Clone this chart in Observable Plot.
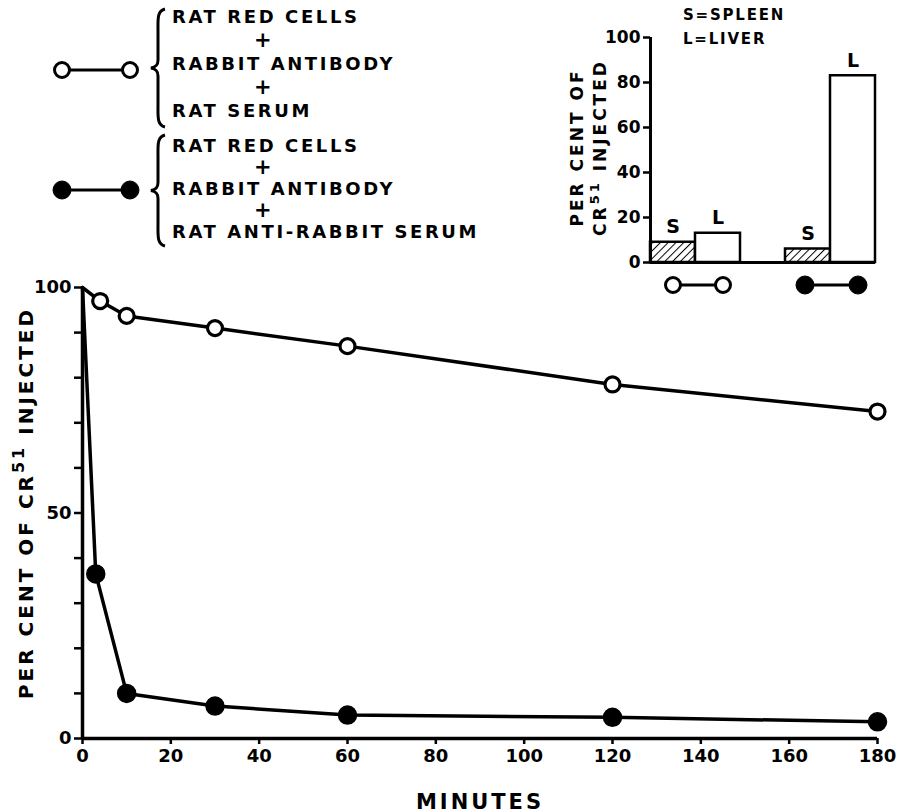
<!DOCTYPE html>
<html><head><meta charset="utf-8">
<script src="https://cdn.jsdelivr.net/npm/d3@7"></script>
<script src="https://cdn.jsdelivr.net/npm/@observablehq/plot@0.6"></script>
<style>
body{margin:0;background:#fff;}
#wrap{position:relative;width:904px;height:812px;overflow:hidden;font-family:"DejaVu Sans",sans-serif;font-weight:bold;color:#000;}
.abs{position:absolute;left:0;top:0;}
.leg{position:absolute;left:172px;font-size:18px;letter-spacing:2.6px;white-space:nowrap;}
.plus{font-size:21px;}
.key{position:absolute;font-size:15px;letter-spacing:1.8px;white-space:nowrap;line-height:24px;}
</style></head><body>
<svg width="0" height="0" style="position:absolute">
  <defs>
    <pattern id="hatch" patternUnits="userSpaceOnUse" width="5.5" height="5.5" patternTransform="rotate(45)">
      <rect width="5.5" height="5.5" fill="white"></rect>
      <line x1="0" y1="0" x2="0" y2="5.5" stroke="black" stroke-width="2"></line>
    </pattern>
  </defs>
</svg>
<div id="wrap"></div>
<script>
// ---- data ----
const openMinutes = [0, 4, 10, 30, 60, 120, 180];
const openPercent = [100, 97, 93.7, 91, 87, 78.5, 72.5];
const filledMinutes = [0, 3, 10, 30, 60, 120, 180];
const filledPercent = [100, 36.5, 10, 7.2, 5.2, 4.7, 3.7];
const xTicks = [0, 20, 40, 60, 80, 100, 120, 140, 160, 180];
const yTicks = [0, 10, 20, 30, 40, 50, 60, 70, 80, 90, 100];
const yTickLabels = [0, 50, 100];
const insetGroups = ["open", "filled"];
const insetOrgans = ["S", "L"];
const spleenPercent = [9, 6];
const liverPercent = [13, 83];
const insetTicks = [0, 20, 40, 60, 80, 100];
const legendLines = [
  ["RAT RED CELLS", "RABBIT ANTIBODY", "RAT SERUM"],
  ["RAT RED CELLS", "RABBIT ANTIBODY", "RAT ANTI-RABBIT SERUM"]
];
const organKey = ["S=SPLEEN", "L=LIVER"];
const insetLabelLines = ["PER CENT OF", "CR51 INJECTED"];

const wrap = document.getElementById("wrap");
const font = {fontFamily: "DejaVu Sans, sans-serif", fontWeight: "bold", fontSize: "18px", background: "transparent", color: "black"};

// superscript helper for labels like "CR51"
function supLabel(textEl, before, sup, after, supSize, shift, lead) {
  const t = d3.select(textEl);
  t.text(null);
  t.append("tspan").attr("dx", lead || 0).text(before);
  t.append("tspan").attr("dy", -shift).style("font-size", supSize + "px").text(sup);
  t.append("tspan").attr("dy", shift).text(after);
}

// ---- main chart ----
const rows = [
  ...openMinutes.map((t, i) => ({series: "open", t, v: openPercent[i]})),
  ...filledMinutes.map((t, i) => ({series: "filled", t, v: filledPercent[i]}))
];
const main = Plot.plot({
  width: 904, height: 812,
  marginLeft: 82, marginRight: 27, marginTop: 287, marginBottom: 74,
  style: font,
  x: {domain: [0, 180]},
  y: {domain: [0, 100]},
  marks: [
    Plot.axisX({ticks: xTicks, tickSize: 6, tickPadding: 5, strokeWidth: 2.5, label: "MINUTES", labelAnchor: "center", labelArrow: "none", labelOffset: 70}),
    Plot.axisY({ticks: yTicks, tickFormat: d => yTickLabels.includes(d) ? d : "", tickSize: 8, tickPadding: 3, strokeWidth: 2.5, label: "PER CENT OF CR51 INJECTED", labelAnchor: "center", labelArrow: "none", labelOffset: 64}),
    Plot.ruleX([0], {strokeWidth: 3.5}),
    Plot.ruleY([0], {strokeWidth: 3.5}),
    Plot.line(rows, {x: "t", y: "v", z: "series", stroke: "black", strokeWidth: 3.5}),
    Plot.dot(rows.filter(d => d.series === "open" && d.t > 0), {x: "t", y: "v", r: 7.5, fill: "white", stroke: "black", strokeWidth: 3.2}),
    Plot.dot(rows.filter(d => d.series === "filled" && d.t > 0), {x: "t", y: "v", r: 9, fill: "black", stroke: "black"})
  ]
});
main.classList.add("abs");
wrap.appendChild(main);
d3.select(main).selectAll('g[aria-label="y-axis label"] text, g[aria-label="x-axis label"] text')
  .style("font-size", "20px").style("letter-spacing", "3px");
d3.select(main).select('g[aria-label="x-axis label"] text').style("font-size", "21px");
d3.select(main).selectAll('g[aria-label="y-axis label"] text').each(function () {
  supLabel(this, "PER CENT OF CR", "51", " INJECTED", 16, 9, 10);
});

// ---- inset chart ----
const insetRows = insetGroups.flatMap((g, gi) => insetOrgans.map((o, oi) => ({
  group: g, organ: o, slot: gi * 3 + oi, value: o === "S" ? spleenPercent[gi] : liverPercent[gi]
})));
const inset = Plot.plot({
  width: 344, height: 300,
  marginLeft: 90, marginRight: 29, marginTop: 37, marginBottom: 38,
  style: font,
  x: {domain: [0, 5], axis: null},
  y: {domain: [0, 100], axis: null},
  marks: [
    Plot.rectY(insetRows.filter(d => d.organ === "S"), {x1: "slot", x2: d => d.slot + 1, y: "value", fill: "url(#hatch)", stroke: "black", strokeWidth: 2.5}),
    Plot.rectY(insetRows.filter(d => d.organ === "L"), {x1: "slot", x2: d => d.slot + 1, y: "value", fill: "white", stroke: "black", strokeWidth: 2.5}),
    Plot.text(insetRows, {x: d => d.slot + 0.5, y: "value", text: "organ", dy: -15, fontSize: 19}),
    Plot.axisY({ticks: insetTicks, tickSize: 7, tickPadding: 3, strokeWidth: 2.5, label: null, fontSize: 17}),
    Plot.ruleX([0], {strokeWidth: 3}),
    Plot.ruleY([0], {strokeWidth: 3}),
    Plot.text(insetLabelLines, {text: d => d, frameAnchor: "left", textAnchor: "middle", lineAnchor: "middle", rotate: -90, fontSize: 17})
  ]
});
inset.classList.add("abs");
inset.style.left = "560px";
wrap.appendChild(inset);
// position the two rotated label lines of the inset and add the superscript
d3.select(inset).selectAll('g[aria-label="text"]').filter((d, i) => i === 1).selectAll("text").each(function (d, i) {
  const x = [17, 40][i];
  this.setAttribute("transform", `translate(${x},147) rotate(-90)`);
  this.setAttribute("text-anchor", "middle");
  d3.select(this).style("letter-spacing", "3px");
  if (i === 1) supLabel(this, "CR", "51", " INJECTED", 13, 7);
});

// ---- organ key ----
const key = document.createElement("div");
key.className = "key";
key.style.left = "683px"; key.style.top = "3px";
key.innerHTML = organKey.map(s => `<div>${s}</div>`).join("");
wrap.appendChild(key);

// ---- legend text ----
const groupTops = [5, 135];
const groupStep = [23.5, 21.5];
legendLines.forEach((lines, gi) => {
  const div = document.createElement("div");
  div.className = "leg";
  div.style.top = groupTops[gi] + "px";
  const parts = [];
  lines.forEach((l, li) => {
    parts.push(`<div style="height:${groupStep[gi]}px;line-height:${groupStep[gi]}px">${l}</div>`);
    if (li < lines.length - 1) parts.push(`<div class="plus" style="height:${groupStep[gi]}px;line-height:${groupStep[gi]}px;padding-left:82px">+</div>`);
  });
  div.innerHTML = parts.join("");
  wrap.appendChild(div);
});

// ---- braces and symbol glyphs ----
const over = d3.select(wrap).append("svg").attr("class", "abs").attr("width", 904).attr("height", 812).style("pointer-events", "none");
function brace(x, y0, y1) {
  const ym = (y0 + y1) / 2;
  const p = `M${x + 8},${y0} C${x},${y0 + 2} ${x + 1},${y0 + 10} ${x + 1},${y0 + 22} L${x + 1},${ym - 8} C${x + 1},${ym - 3} ${x - 1},${ym - 1} ${x - 6},${ym} C${x - 1},${ym + 1} ${x + 1},${ym + 3} ${x + 1},${ym + 8} L${x + 1},${y1 - 22} C${x + 1},${y1 - 10} ${x},${y1 - 2} ${x + 8},${y1}`;
  over.append("path").attr("d", p).attr("fill", "none").attr("stroke", "black").attr("stroke-width", 3);
}
brace(157, 9, 127);
brace(157, 135, 246);
function pair(filled, x1, x2, cy, r) {
  over.append("line").attr("x1", x1).attr("x2", x2).attr("y1", cy).attr("y2", cy).attr("stroke", "black").attr("stroke-width", 3);
  [x1, x2].forEach(cx => over.append("circle").attr("cx", cx).attr("cy", cy).attr("r", r)
    .attr("fill", filled ? "black" : "white").attr("stroke", "black").attr("stroke-width", filled ? 1 : 3));
}
pair(false, 62, 130, 70, 7.5);
pair(true, 62, 130, 190, 9);
pair(false, 673, 723, 285, 7.5);
pair(true, 805, 858, 285, 9);
</script>
</body></html>
